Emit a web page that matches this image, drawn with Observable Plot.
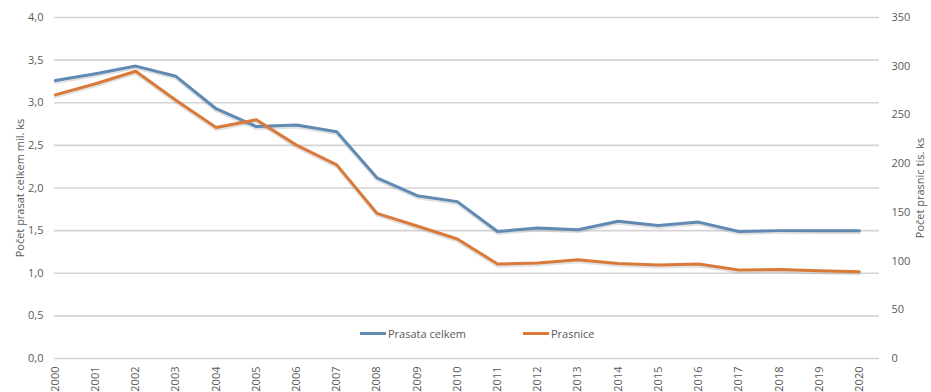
<!DOCTYPE html>
<html><head><meta charset="utf-8">
<script src="https://cdn.jsdelivr.net/npm/d3@7"></script>
<script src="https://cdn.jsdelivr.net/npm/@observablehq/plot@0.6"></script>
<style>
html,body{margin:0;padding:0;background:#fff;}
#wrap{position:relative;width:931px;height:392px;overflow:hidden;font-family:"Open Sans",sans-serif;}
.leg{position:absolute;top:326px;font-size:11px;color:#595959;display:flex;align-items:center;white-space:nowrap;}
.sw{display:inline-block;width:26px;height:3px;margin-right:2px;}
</style></head>
<body><div id="wrap"></div>
<script>
const years = [2000,2001,2002,2003,2004,2005,2006,2007,2008,2009,2010,2011,2012,2013,2014,2015,2016,2017,2018,2019,2020];
const prasata = [3.26,3.34,3.43,3.31,2.93,2.72,2.74,2.66,2.12,1.91,1.84,1.49,1.53,1.51,1.61,1.56,1.60,1.49,1.50,1.50,1.50];
const prasnice = [270.6,282,294.8,265,237,245,219,198.7,149,136,122.7,97,98,101.4,97.6,96,97,90.8,91.4,90,89];
const leftTicks = [0,0.5,1,1.5,2,2.5,3,3.5,4];
const rightTicks = [0,50,100,150,200,250,300,350];
const seriesNames = ["Prasata celkem","Prasnice"];
const colors = ["#6089b3","#d9793a"];

const k = 4/350;
const blue = years.map((y,i)=>({year:y, v:prasata[i]}));
const orange = years.map((y,i)=>({year:y, v:prasnice[i]*k}));

const plot = Plot.plot({
  width:931, height:392,
  marginLeft:54, marginRight:52, marginTop:17, marginBottom:34,
  style:{fontFamily:"'Open Sans', sans-serif", fontSize:"11px", color:"#595959", background:"#fff"},
  x:{domain:[1999.98,2020.5], axis:null},
  y:{domain:[0,4], axis:null},
  marks:[
    Plot.ruleY(leftTicks,{stroke:"#d4d4d4", strokeWidth:1.6}),
    Plot.axisY(leftTicks,{anchor:"left", tickSize:0, tickPadding:11, tickFormat:d=>d.toFixed(1).replace(".",","),
      label:"Počet prasat celkem mil. ks", labelAnchor:"center", labelArrow:"none", labelOffset:38, fill:"#595959"}),
    Plot.axisY(rightTicks.map(v=>v*k),{anchor:"right", tickSize:0, tickPadding:12, tickFormat:d=>String(Math.round(d/k)),
      label:"Počet prasnic tis. ks", labelAnchor:"center", labelArrow:"none", labelOffset:44, fill:"#595959"}),
    Plot.axisX(years,{anchor:"bottom", tickSize:0, tickPadding:8, tickRotate:-90, tickFormat:d=>String(d), label:null, fill:"#595959"}),
    Plot.line(blue,{x:"year", y:"v", stroke:"#888", strokeOpacity:0.25, strokeWidth:3, dy:2}),
    Plot.line(orange,{x:"year", y:"v", stroke:"#888", strokeOpacity:0.25, strokeWidth:3, dy:2}),
    Plot.line(blue,{x:"year", y:"v", stroke:colors[0], strokeWidth:3}),
    Plot.line(orange,{x:"year", y:"v", stroke:colors[1], strokeWidth:3})
  ]
});
const wrap = document.getElementById("wrap");
wrap.appendChild(plot);
const legPos = [360, 523];
seriesNames.forEach((n,i)=>{
  const d = document.createElement("div");
  d.className="leg"; d.style.left = legPos[i]+"px";
  d.innerHTML = `<span class="sw" style="background:${colors[i]}"></span>${n}`;
  wrap.appendChild(d);
});
</script></body></html>
